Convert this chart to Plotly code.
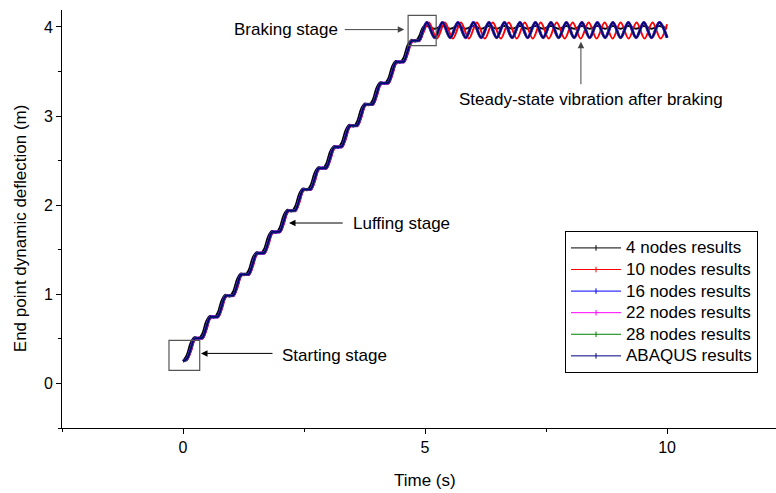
import plotly.graph_objects as go

# ---------------- data ----------------
# Luffing stage sampling times (s)
t_luff = [0.00, 0.08, 0.16, 0.24, 0.32, 0.40, 0.48, 0.56, 0.64, 0.72, 0.80, 0.88,
          0.96, 1.04, 1.12, 1.20, 1.28, 1.36, 1.44, 1.52, 1.60, 1.68, 1.76, 1.84,
          1.92, 2.00, 2.08, 2.16, 2.24, 2.32, 2.40, 2.48, 2.56, 2.64, 2.72, 2.80,
          2.88, 2.96, 3.04, 3.12, 3.20, 3.28, 3.36, 3.44, 3.52, 3.60, 3.68, 3.76,
          3.84, 3.92, 4.00, 4.08, 4.16, 4.24, 4.32, 4.40, 4.48, 4.56, 4.64, 4.72,
          4.80, 4.88, 4.96]

# 16 / 22 / 28 nodes and ABAQUS curves coincide during luffing
luff_fem = [0.250, 0.275, 0.389, 0.504, 0.508, 0.513, 0.628, 0.742, 0.747, 0.751,
            0.866, 0.981, 0.985, 0.990, 1.104, 1.219, 1.224, 1.228, 1.343, 1.457,
            1.462, 1.467, 1.581, 1.696, 1.700, 1.705, 1.820, 1.934, 1.939, 1.943,
            2.058, 2.173, 2.177, 2.182, 2.296, 2.411, 2.416, 2.420, 2.535, 2.649,
            2.654, 2.659, 2.773, 2.888, 2.892, 2.897, 3.012, 3.126, 3.131, 3.135,
            3.250, 3.365, 3.369, 3.374, 3.488, 3.603, 3.608, 3.612, 3.727, 3.841,
            3.846, 3.851, 3.965]

luff_4nodes = [0.250, 0.321, 0.458, 0.518, 0.499, 0.559, 0.697, 0.756, 0.738, 0.797,
               0.935, 0.995, 0.976, 1.036, 1.173, 1.233, 1.215, 1.274, 1.412, 1.471,
               1.453, 1.513, 1.650, 1.710, 1.691, 1.751, 1.889, 1.948, 1.930, 1.989,
               2.127, 2.187, 2.168, 2.228, 2.365, 2.425, 2.407, 2.466, 2.604, 2.663,
               2.645, 2.705, 2.842, 2.902, 2.883, 2.943, 3.081, 3.140, 3.122, 3.181,
               3.319, 3.379, 3.360, 3.420, 3.557, 3.617, 3.599, 3.658, 3.796, 3.855,
               3.837, 3.897, 4.000]

luff_10nodes = [0.250, 0.264, 0.353, 0.485, 0.514, 0.502, 0.592, 0.723, 0.753, 0.740,
                0.830, 0.962, 0.991, 0.979, 1.068, 1.200, 1.230, 1.217, 1.307, 1.438,
                1.468, 1.456, 1.545, 1.677, 1.706, 1.694, 1.784, 1.915, 1.945, 1.932,
                2.022, 2.154, 2.183, 2.171, 2.260, 2.392, 2.422, 2.409, 2.499, 2.630,
                2.660, 2.648, 2.737, 2.869, 2.898, 2.886, 2.976, 3.107, 3.137, 3.124,
                3.214, 3.346, 3.375, 3.363, 3.452, 3.584, 3.614, 3.601, 3.691, 3.822,
                3.852, 3.840, 3.929]

# Steady-state vibration after braking: peak / trough times and values
t_ss_fem = [5.04, 5.20, 5.36, 5.52, 5.68, 5.84, 6.00, 6.16, 6.32, 6.48, 6.64, 6.80,
            6.96, 7.12, 7.28, 7.44, 7.60, 7.76, 7.92, 8.08, 8.24, 8.40, 8.56, 8.72,
            8.88, 9.04, 9.20, 9.36, 9.52, 9.68, 9.84, 10.00]
ss_fem = [4.05, 3.88, 4.05, 3.88, 4.05, 3.88, 4.05, 3.88, 4.05, 3.88, 4.05, 3.88,
          4.05, 3.88, 4.05, 3.88, 4.05, 3.88, 4.05, 3.88, 4.05, 3.88, 4.05, 3.88,
          4.05, 3.88, 4.05, 3.88, 4.05, 3.88, 4.05, 3.88]
ss_4nodes = [4.01, 3.98, 4.01, 3.98, 4.01, 3.98, 4.01, 3.98, 4.01, 3.98, 4.01, 3.98,
             4.01, 3.98, 4.01, 3.98, 4.01, 3.98, 4.01, 3.98, 4.01, 3.98, 4.01, 3.98,
             4.01, 3.98, 4.01, 3.98, 4.01, 3.98, 4.01, 3.98]
t_ss_10nodes = [5.08, 5.245, 5.41, 5.575, 5.74, 5.905, 6.07, 6.235, 6.40, 6.565,
                6.73, 6.895, 7.06, 7.225, 7.39, 7.555, 7.72, 7.885, 8.05, 8.215,
                8.38, 8.545, 8.71, 8.875, 9.04, 9.205, 9.37, 9.535, 9.70, 9.865, 10.00]
ss_10nodes = [4.05, 3.87, 4.05, 3.87, 4.05, 3.87, 4.05, 3.87, 4.05, 3.87,
              4.05, 3.87, 4.05, 3.87, 4.05, 3.87, 4.05, 3.87, 4.05, 3.87,
              4.05, 3.87, 4.05, 3.87, 4.05, 3.87, 4.05, 3.87, 4.05, 3.87, 4.03]

series_names = ["4 nodes results", "10 nodes results", "16 nodes results",
                "22 nodes results", "28 nodes results", "ABAQUS results"]
series_colors = ["#000000", "#FF0000", "#0000FF", "#FF00FF", "#008000", "#000080"]
series_widths = [2, 2, 3.0, 2.6, 2.2, 1.8]

series_x = [t_luff + t_ss_fem, t_luff + t_ss_10nodes, t_luff + t_ss_fem,
            t_luff + t_ss_fem, t_luff + t_ss_fem, t_luff + t_ss_fem]
series_y = [luff_4nodes + ss_4nodes, luff_10nodes + ss_10nodes, luff_fem + ss_fem,
            luff_fem + ss_fem, luff_fem + ss_fem, luff_fem + ss_fem]

FONT = "Liberation Sans, Arial, sans-serif"

fig = go.Figure()
for x, y, c, w in zip(series_x, series_y, series_colors, series_widths):
    fig.add_trace(go.Scatter(x=x, y=y, mode="lines", line=dict(color=c, width=w, shape="spline"),
                             showlegend=False, hoverinfo="skip"))
# legend entries (thin lines as in the reference)
for n, c in zip(series_names, series_colors):
    fig.add_trace(go.Scatter(x=[None], y=[None], mode="lines+markers",
                             name='<span style="font-size:17px">' + n + '</span>',
                             line=dict(color=c, width=1),
                             marker=dict(symbol="line-ns-open", size=4, color=c,
                                         line=dict(color=c, width=1))))

# boxes marking stages
fig.add_shape(type="rect", xref="x", yref="y", x0=-0.29, x1=0.345, y0=0.146, y1=0.483,
              line=dict(color="#555555", width=1.2))
fig.add_shape(type="rect", xref="x", yref="y", x0=4.65, x1=5.23, y0=3.79, y1=4.13,
              line=dict(color="#555555", width=1.2))

# arrows
arrows = [((0.372, 0.337), (1.88, 0.337), "#000000"),
          ((2.19, 1.80), (3.33, 1.80), "#000000"),
          ((4.57, 3.97), (3.31, 3.97), "#444444"),
          ((8.22, 3.835), (8.22, 3.34), "#444444")]
for (hx, hy), (tx, ty), col in arrows:
    fig.add_annotation(x=hx, y=hy, ax=tx, ay=ty, xref="x", yref="y", axref="x", ayref="y",
                       text="", showarrow=True, arrowhead=2, arrowsize=1.3, arrowwidth=1,
                       arrowcolor=col, standoff=0, startstandoff=0)

texts = [("Starting stage", 2.02, 0.315, "left"),
         ("Luffing stage", 3.49, 1.79, "left"),
         ("Braking stage", 3.22, 3.97, "right"),
         ("Steady-state vibration after braking", 11.18, 3.19, "right")]
for s, x, y, anc in texts:
    fig.add_annotation(x=x, y=y, xref="x", yref="y", text=s, showarrow=False,
                       xanchor=anc, yanchor="middle", borderpad=0,
                       font=dict(family=FONT, size=17, color="#000000"))

# axis titles
fig.add_annotation(x=0.508, y=0, xref="paper", yref="paper", yshift=-52, text="Time (s)",
                   showarrow=False, xanchor="center", yanchor="middle",
                   font=dict(family=FONT, size=17, color="#000000"))
fig.add_annotation(x=0, y=0.478, xref="paper", yref="paper", xshift=-42,
                   text="End point dynamic deflection (m)", textangle=-90,
                   showarrow=False, xanchor="center", yanchor="middle",
                   font=dict(family=FONT, size=17, color="#000000"))

axis_common = dict(showline=True, linecolor="#000000", linewidth=1, ticks="outside",
                   ticklen=5, tickwidth=1, tickcolor="#000000", showgrid=False,
                   zeroline=False, tickfont=dict(family=FONT, size=16, color="#000000"))
fig.update_xaxes(range=[-2.5, 12.25], tick0=0, dtick=5,
                 minor=dict(dtick=2.5, tick0=0, ticks="outside", ticklen=3, tickcolor="#000000",
                            showgrid=False), **axis_common)
fig.update_yaxes(range=[-0.5, 4.19], tick0=0, dtick=1,
                 minor=dict(dtick=0.5, tick0=0, ticks="outside", ticklen=3, tickcolor="#000000",
                            showgrid=False), **axis_common)

fig.update_layout(width=776, height=493, margin=dict(l=62, r=0, t=10, b=65),
                  paper_bgcolor="white", plot_bgcolor="white",
                  font=dict(family=FONT, size=17, color="#000000"),
                  legend=dict(x=0.7045, y=0.471, xanchor="left", yanchor="top",
                              bordercolor="#000000", borderwidth=1, bgcolor="white",
                              font=dict(family=FONT, size=14.3, color="#000000"),
                              tracegroupgap=0, itemwidth=50))

fig.write_html("out.html")
